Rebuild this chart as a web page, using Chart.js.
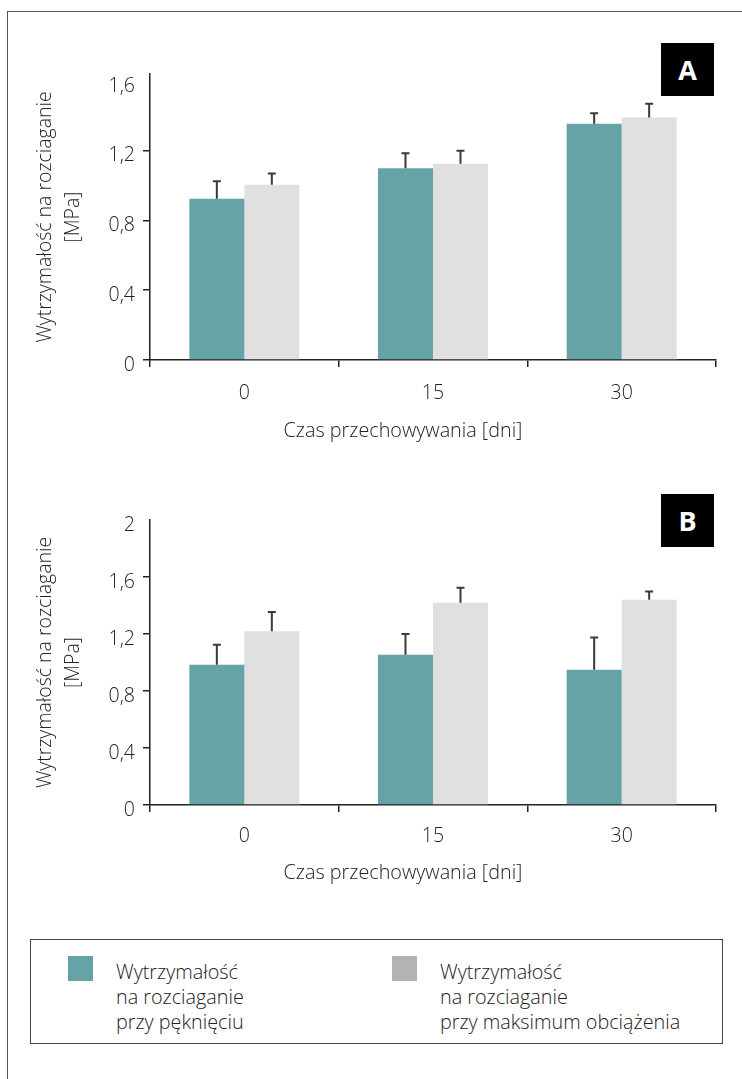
<!DOCTYPE html>
<html lang="pl">
<head>
<meta charset="utf-8">
<script src="https://cdn.jsdelivr.net/npm/chart.js@4.4.1/dist/chart.umd.min.js"></script>
<style>
  html, body { margin: 0; padding: 0; background: #fff; }
  body { width: 742px; height: 1079px; position: relative; overflow: hidden;
         font-family: "Open Sans", sans-serif; font-weight: 300; color: #222; }
  .frame { position: absolute; left: 7px; top: 11px; width: 760px; height: 1100px;
           border-top: 1px solid #555; border-left: 1px solid #555; }
  canvas { position: absolute; left: 0; }
  #chartA { top: 0; }
  #chartB { top: 460px; }
  .tag { position: absolute; left: 661px; width: 53px; height: 53px; background: #000; color: #fff;
         font: 700 27px "Open Sans", sans-serif; display: flex; align-items: center; justify-content: center; }
  .xtitle { position: absolute; left: 203px; width: 400px; text-align: center;
            font-size: 19.8px; line-height: 24px; white-space: nowrap; }
  .legend { position: absolute; left: 30px; top: 939px; width: 691px; height: 103px;
            border: 1px solid #444; }
  .swatch { position: absolute; top: 16px; width: 25px; height: 25px; }
  .ltext { position: absolute; top: 19px; font-size: 19.8px; line-height: 25px; white-space: nowrap; }
</style>
</head>
<body>
<div class="frame"></div>
<canvas id="chartA" width="742" height="460"></canvas>
<canvas id="chartB" width="742" height="459"></canvas>
<div class="tag" style="top:43px">A</div>
<div class="tag" style="top:494px">B</div>
<div class="xtitle" id="xtA" style="top:418px"></div>
<div class="xtitle" id="xtB" style="top:860px"></div>
<div class="legend">
  <div class="swatch" style="left:37px;background:#66a3a6"></div>
  <div class="ltext" id="legA" style="left:85px"></div>
  <div class="swatch" style="left:361px;background:#b3b3b3"></div>
  <div class="ltext" id="legB" style="left:409px"></div>
</div>
<script>
// Storage time categories (days)
const categories = ['0', '15', '30'];

// Panel A: tensile strength [MPa] with upper standard deviation
const breakA = [0.925, 1.10, 1.355];
const breakErrA = [0.10, 0.085, 0.06];
const maxLoadA = [1.005, 1.125, 1.39];
const maxLoadErrA = [0.065, 0.075, 0.08];

// Panel B
const breakB = [0.985, 1.055, 0.95];
const breakErrB = [0.14, 0.145, 0.226];
const maxLoadB = [1.22, 1.42, 1.44];
const maxLoadErrB = [0.135, 0.105, 0.058];

// Y axis ticks and their labels
const yTicksA = [0, 0.4, 0.8, 1.2, 1.6];
const yTickLabelsA = ['0', '0,4', '0,8', '1,2', '1,6'];
const yTicksB = [0, 0.4, 0.8, 1.2, 1.6, 2];
const yTickLabelsB = ['0', '0,4', '0,8', '1,2', '1,6', '2'];

const seriesNames = [
  ['Wytrzymałość', 'na rozciaganie', 'przy pęknięciu'],
  ['Wytrzymałość', 'na rozciaganie', 'przy maksimum obciążenia']
];
const yTitle = ['Wytrzymałość na rozciaganie', '[MPa]'];
const xTitle = 'Czas przechowywania [dni]';

const TEAL = '#66a3a6';
const LIGHT = '#e0e0e0';
const INK = '#222';
const TEXT = '#222';
const FONT = '"Open Sans", sans-serif';
const TEXT_SIZE = 19.5;

// Upper error whiskers with a short cap
const errorBars = {
  id: 'errorBars',
  afterDatasetsDraw(chart) {
    const { ctx } = chart;
    const y = chart.scales.y;
    ctx.save();
    ctx.strokeStyle = '#3a3a3a';
    ctx.lineWidth = 2;
    chart.data.datasets.forEach((ds, i) => {
      const meta = chart.getDatasetMeta(i);
      meta.data.forEach((bar, j) => {
        const top = y.getPixelForValue(ds.data[j] + ds.errors[j]);
        ctx.beginPath();
        ctx.moveTo(bar.x, bar.y);
        ctx.lineTo(bar.x, top);
        ctx.moveTo(bar.x - 4, top);
        ctx.lineTo(bar.x + 4, top);
        ctx.stroke();
      });
    });
    ctx.restore();
  }
};

function makeChart(id, cfg) {
  return new Chart(document.getElementById(id), {
    type: 'bar',
    data: {
      labels: categories,
      datasets: [
        { data: cfg.a, errors: cfg.aErr, backgroundColor: TEAL },
        { data: cfg.b, errors: cfg.bErr, backgroundColor: LIGHT }
      ]
    },
    options: {
      responsive: false,
      animation: false,
      events: [],
      layout: { padding: { left: 0, right: 26, top: cfg.padTop, bottom: 0 } },
      plugins: { legend: { display: false }, tooltip: { enabled: false } },
      datasets: { bar: { barPercentage: 1, categoryPercentage: 0.583 } },
      scales: {
        x: {
          afterFit(s) { s.height = cfg.xHeight; },
          grid: { display: true, offset: true, drawOnChartArea: false, tickLength: 7,
                  color: INK, lineWidth: 1.5 },
          border: { display: true, color: INK, width: 1.5 },
          ticks: { color: TEXT, padding: cfg.xPad, font: { family: FONT, size: TEXT_SIZE, weight: '300' } }
        },
        y: {
          min: 0,
          max: cfg.yMax,
          afterFit(s) { s.width = 150; },
          afterBuildTicks(s) { s.ticks = cfg.yTicks.map(v => ({ value: v })); },
          grid: { display: true, drawOnChartArea: false, tickLength: 7, lineWidth: 1.5,
                  color: c => (c.tick && c.tick.value === cfg.yTicks[cfg.yTicks.length - 1]) ? 'rgba(0,0,0,0)' : INK },
          border: { display: true, color: INK, width: 1.5 },
          ticks: {
            color: TEXT, padding: 8, labelOffset: 5,
            font: { family: FONT, size: TEXT_SIZE, weight: '300' },
            callback: (v) => cfg.yLabels[cfg.yTicks.indexOf(v)]
          },
          title: {
            display: true, text: yTitle, color: TEXT,
            font: { family: FONT, size: TEXT_SIZE, weight: '300', lineHeight: 1.4 },
            padding: { top: 32, bottom: 0 }
          }
        }
      }
    },
    plugins: [errorBars]
  });
}

makeChart('chartA', {
  a: breakA, aErr: breakErrA, b: maxLoadA, bErr: maxLoadErrA,
  yMax: 1.64, yTicks: yTicksA, yLabels: yTickLabelsA,
  padTop: 74, xHeight: 100, xPad: 15
});
makeChart('chartB', {
  a: breakB, aErr: breakErrB, b: maxLoadB, bErr: maxLoadErrB,
  yMax: 2, yTicks: yTicksB, yLabels: yTickLabelsB,
  padTop: 60, xHeight: 114, xPad: 13
});

document.getElementById('xtA').textContent = xTitle;
document.getElementById('xtB').textContent = xTitle;
document.getElementById('legA').innerHTML = seriesNames[0].join('<br>');
document.getElementById('legB').innerHTML = seriesNames[1].join('<br>');
</script>
</body>
</html>
